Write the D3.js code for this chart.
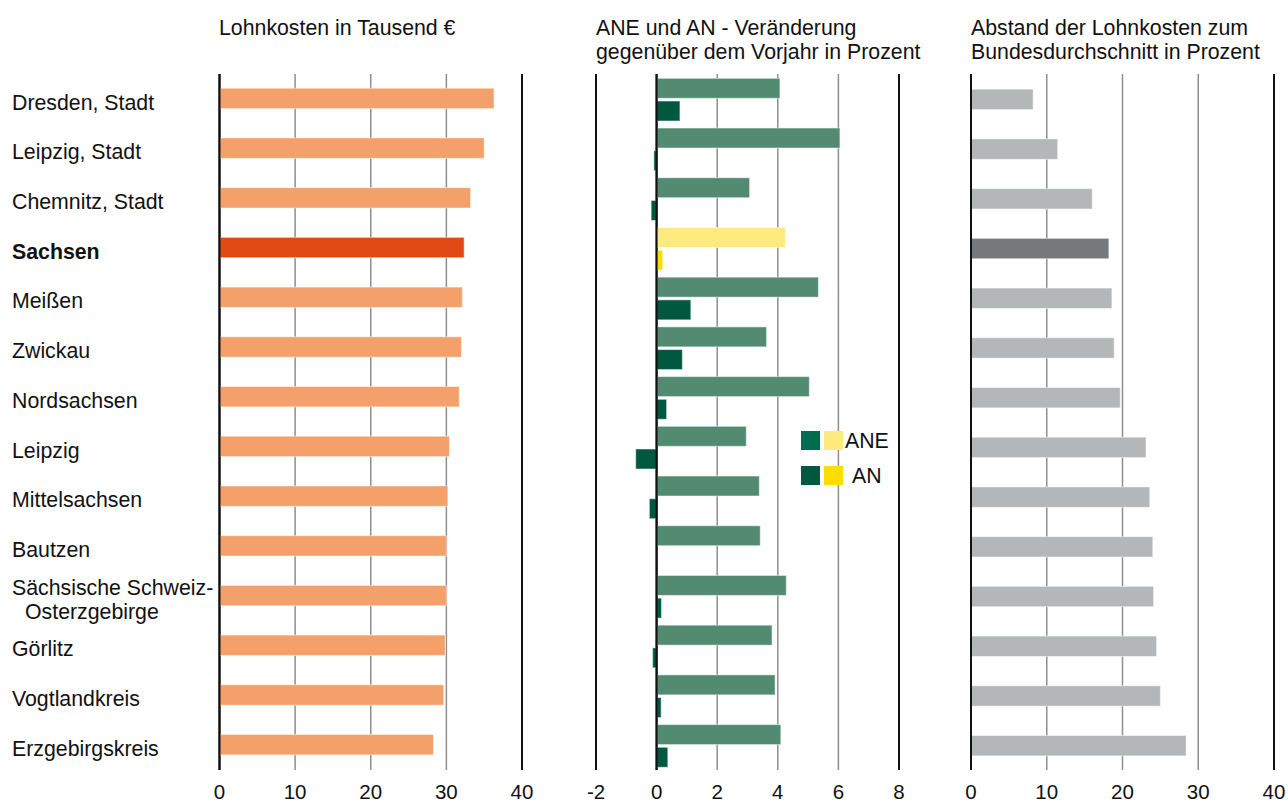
<!DOCTYPE html>
<html lang="de">
<head>
    <meta charset="utf-8">
    <title>Lohnkosten Sachsen</title>
    <script src="https://d3js.org/d3.v7.min.js"></script>
    <style>
        body { margin: 0; background: #fff; }
        svg { display: block; font-family: "Liberation Sans", Arial, sans-serif; }
    </style>
</head>
<body>
<div id="chart"></div>
<script>
    // data
    const regions = ["Dresden, Stadt", "Leipzig, Stadt", "Chemnitz, Stadt", "Sachsen", "Meißen", "Zwickau",
        "Nordsachsen", "Leipzig", "Mittelsachsen", "Bautzen", "Sächsische Schweiz-Osterzgebirge",
        "Görlitz", "Vogtlandkreis", "Erzgebirgskreis"];
    const lohnkosten = [36.3, 35.0, 33.2, 32.35, 32.1, 32.0, 31.7, 30.4, 30.2, 30.0, 30.0, 29.85, 29.65, 28.3];
    const ane = [4.07, 6.05, 3.07, 4.25, 5.34, 3.63, 5.04, 2.96, 3.39, 3.42, 4.28, 3.81, 3.91, 4.1];
    const an = [0.77, -0.09, -0.18, 0.2, 1.13, 0.85, 0.33, -0.69, -0.24, 0, 0.16, -0.13, 0.15, 0.37];
    const abstand = [8.2, 11.45, 16.0, 18.2, 18.6, 18.9, 19.7, 23.1, 23.6, 24.0, 24.1, 24.5, 25.0, 28.4];
    const ticks1 = [0, 10, 20, 30, 40];
    const ticks2 = [-2, 0, 2, 4, 6, 8];
    const ticks3 = [0, 10, 20, 30, 40];
    const highlight = "Sachsen";

    const width = 1288, height = 802;
    const yTop = 74, yBottom = 770;
    const fs = 21.3;

    const svg = d3.select("#chart").append("svg")
        .attr("width", width).attr("height", height);

    const y = d3.scaleBand().domain(regions).range([yTop, yBottom]);
    const bw = y.bandwidth();

    const x1 = d3.scaleLinear().domain([0, 40]).range([219.5, 522]);
    const x2 = d3.scaleLinear().domain([-2, 8]).range([596, 899]);
    const x3 = d3.scaleLinear().domain([0, 40]).range([971, 1274]);

    // grid lines + tick labels for one panel
    function grid(x, ticks, dark) {
        const g = svg.append("g");
        g.selectAll("line").data(ticks).join("line")
            .attr("x1", d => x(d)).attr("x2", d => x(d))
            .attr("y1", yTop).attr("y2", yBottom)
            .attr("stroke", d => dark.includes(d) ? "#111" : "#8e8e8e")
            .attr("stroke-width", d => dark.includes(d) ? 2 : 1.5);
        g.selectAll("text").data(ticks).join("text")
            .attr("x", d => x(d)).attr("y", 799)
            .attr("text-anchor", "middle")
            .attr("font-size", 20.5)
            .attr("fill", "#111")
            .text(d => d);
    }
    grid(x1, ticks1, [0, 40]);
    grid(x2, ticks2, [-2, 0, 8]);
    grid(x3, ticks3, [0, 40]);

    // titles
    function title(x, lines) {
        svg.append("text")
            .attr("x", x).attr("y", 35)
            .attr("font-size", fs).attr("fill", "#111")
            .selectAll("tspan").data(lines).join("tspan")
            .attr("x", x).attr("dy", (d, i) => i ? 24 : 0)
            .text(d => d);
    }
    title(219, ["Lohnkosten in Tausend €"]);
    title(596, ["ANE und AN - Veränderung", "gegenüber dem Vorjahr in Prozent"]);
    title(971, ["Abstand der Lohnkosten zum", "Bundesdurchschnitt in Prozent"]);

    // row labels
    const labels = svg.append("g").attr("font-size", fs).attr("fill", "#111");
    regions.forEach(r => {
        const cy = y(r) + bw / 2 + 3;
        const parts = r.includes("-") ? [r.split("-")[0] + "-", r.split("-")[1]] : [r];
        parts.forEach((p, i) => {
            labels.append("text")
                .attr("x", i ? 25 : 12)
                .attr("y", cy + (parts.length > 1 ? (i ? 12 : -12) : 0))
                .attr("dy", "0.36em")
                .attr("font-weight", r === highlight ? "bold" : "normal")
                .text(p);
        });
    });

    const rows = regions.map((r, i) => ({
        name: r, lohn: lohnkosten[i], ane: ane[i], an: an[i], abstand: abstand[i]
    }));

    // panel 1
    svg.append("g").selectAll("rect").data(rows).join("rect")
        .attr("x", x1(0))
        .attr("y", d => y(d.name) + 14.2)
        .attr("width", d => x1(d.lohn) - x1(0))
        .attr("height", 20.4)
        .attr("fill", d => d.name === highlight ? "#e04a14" : "#f4a06b")
        .attr("stroke", "#fff").attr("stroke-opacity", 0.5).attr("stroke-width", 1);

    // panel 2
    const p2 = svg.append("g");
    p2.selectAll("rect.ane").data(rows).join("rect").attr("class", "ane")
        .attr("x", d => x2(Math.min(0, d.ane)))
        .attr("y", d => y(d.name) + 4.3)
        .attr("width", d => Math.abs(x2(d.ane) - x2(0)))
        .attr("height", 20)
        .attr("fill", d => d.name === highlight ? "#ffea7f" : "#528b72")
        .attr("stroke", "#fff").attr("stroke-opacity", 0.5).attr("stroke-width", 1);
    p2.selectAll("rect.an").data(rows.filter(d => d.an !== 0)).join("rect").attr("class", "an")
        .attr("x", d => x2(Math.min(0, d.an)))
        .attr("y", d => y(d.name) + 27)
        .attr("width", d => Math.abs(x2(d.an) - x2(0)))
        .attr("height", 20)
        .attr("fill", d => d.name === highlight ? "#ffdc00" : "#00583f")
        .attr("stroke", "#fff").attr("stroke-opacity", 0.5).attr("stroke-width", 1);
    // zero line on top of bars
    p2.append("line")
        .attr("x1", x2(0)).attr("x2", x2(0)).attr("y1", yTop).attr("y2", yBottom)
        .attr("stroke", "#111").attr("stroke-width", 2);

    // legend
    const legend = [
        {label: "ANE", c1: "#006e4e", c2: "#ffea7f", y: 431, tx: 845},
        {label: "AN", c1: "#00583f", c2: "#ffdd00", y: 466, tx: 852}
    ];
    const lg = svg.append("g");
    legend.forEach(l => {
        lg.append("rect").attr("x", 801).attr("y", l.y).attr("width", 19).attr("height", 19).attr("fill", l.c1);
        lg.append("rect").attr("x", 824).attr("y", l.y).attr("width", 19).attr("height", 19).attr("fill", l.c2);
        lg.append("text").attr("x", l.tx).attr("y", l.y + 9.5).attr("dy", "0.36em")
            .attr("font-size", fs).attr("fill", "#111").text(l.label);
    });

    // panel 3
    svg.append("g").selectAll("rect").data(rows).join("rect")
        .attr("x", x3(0))
        .attr("y", d => y(d.name) + 15.2)
        .attr("width", d => x3(d.abstand) - x3(0))
        .attr("height", 20.4)
        .attr("fill", d => d.name === highlight ? "#77787a" : "#b5b6b8")
        .attr("stroke", "#fff").attr("stroke-opacity", 0.5).attr("stroke-width", 1);

    // redraw panel boundary lines over bars
    [[x1, 0], [x3, 0]].forEach(([x, v]) => {
        svg.append("line").attr("x1", x(v)).attr("x2", x(v)).attr("y1", yTop).attr("y2", yBottom)
            .attr("stroke", "#111").attr("stroke-width", 2);
    });
</script>
</body>
</html>
